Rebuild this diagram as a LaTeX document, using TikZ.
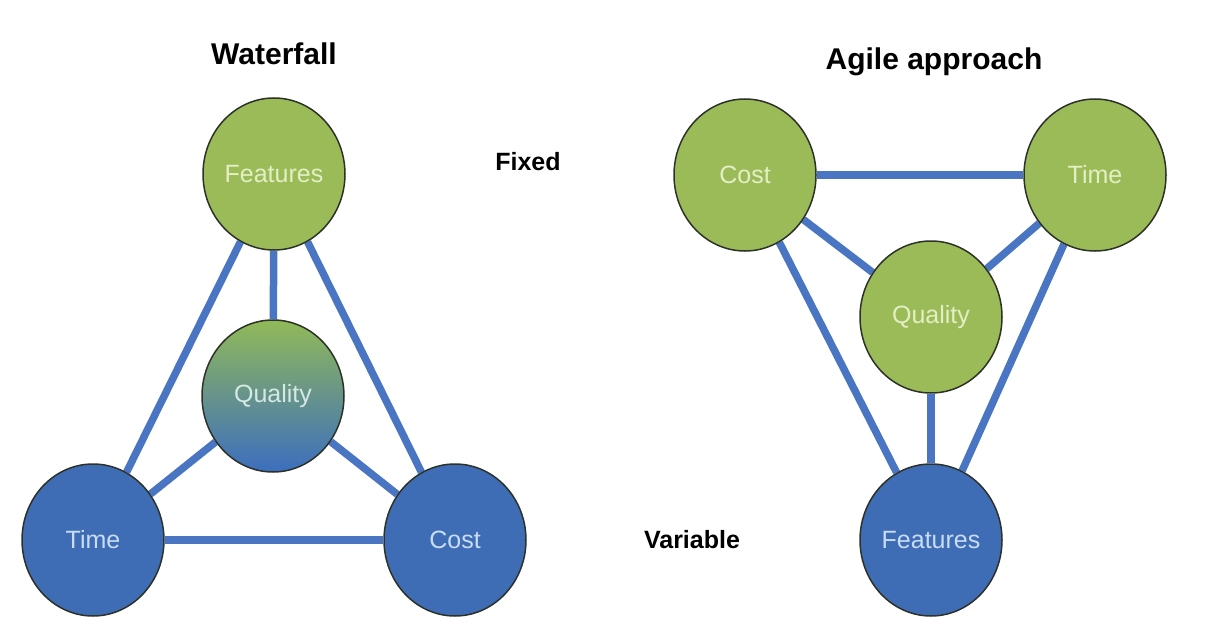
\documentclass[tikz,border=0pt]{standalone}
\usepackage{fontspec}
\setmainfont{Liberation Sans}
\usetikzlibrary{shapes.geometric}
\pgfdeclarelayer{bg}
\pgfsetlayers{bg,main}
\definecolor{lgreen}{RGB}{155,187,89}
\definecolor{dblue}{RGB}{62,109,181}
\definecolor{linkblue}{RGB}{74,117,194}
\definecolor{rimc}{RGB}{45,50,40}
\definecolor{gtext}{RGB}{228,238,196}
\definecolor{btext}{RGB}{200,220,246}
\definecolor{qtext}{RGB}{212,232,228}
\definecolor{qtop}{RGB}{145,185,88}
\definecolor{qmid}{RGB}{100,148,140}
\definecolor{qbot}{RGB}{60,110,190}
\tikzset{
  blob/.style={ellipse, draw=rimc, line width=1.5pt, inner sep=0pt,
    minimum width=142pt, minimum height=152pt,
    font=\fontsize{25}{30}\selectfont},
  greenblob/.style={blob, fill=lgreen, text=gtext},
  blueblob/.style={blob, fill=dblue, text=btext},
  mixblob/.style={blob, top color=qtop, middle color=qmid, bottom color=qbot, text=qtext},
  link/.style={draw=linkblue, line width=7.5pt},
  title/.style={font=\bfseries\fontsize{30}{36}\selectfont, text=black},
  side/.style={font=\bfseries\fontsize{25}{30}\selectfont, text=black}
}
\begin{document}
\begin{tikzpicture}[x=1pt,y=-1pt]
\useasboundingbox (0,0) rectangle (1216,642);
% nodes
\node[greenblob] (wfeat) at (274,174) {Features};
\node[mixblob] (wqual) at (273,396) {Quality};
\node[blueblob] (wtime) at (93,540) {Time};
\node[blueblob] (wcost) at (455,540) {Cost};
\node[greenblob] (acost) at (745,175) {Cost};
\node[greenblob] (atime) at (1095,175) {Time};
\node[greenblob] (aqual) at (931,317) {Quality};
\node[blueblob] (afeat) at (931,540) {Features};
% links behind the nodes
\begin{pgfonlayer}{bg}
\draw[link] (wfeat) -- (wtime);
\draw[link] (wfeat) -- (wcost);
\draw[link] (wfeat) -- (wqual);
\draw[link] (wqual) -- (wtime);
\draw[link] (wqual) -- (wcost);
\draw[link] (wtime) -- (wcost);
\draw[link] (acost) -- (atime);
\draw[link] (acost) -- (aqual);
\draw[link] (atime) -- (aqual);
\draw[link] (acost) -- (afeat);
\draw[link] (atime) -- (afeat);
\draw[link] (aqual) -- (afeat);
\end{pgfonlayer}
% texts
\node[title] (t1) at (274,54) {Waterfall};
\node[title] (t2) at (934,62) {Agile approach};
\node[side] (fx) at (528,162) {Fixed};
\node[side] (vr) at (692,540) {Variable};
\end{tikzpicture}
\end{document}
